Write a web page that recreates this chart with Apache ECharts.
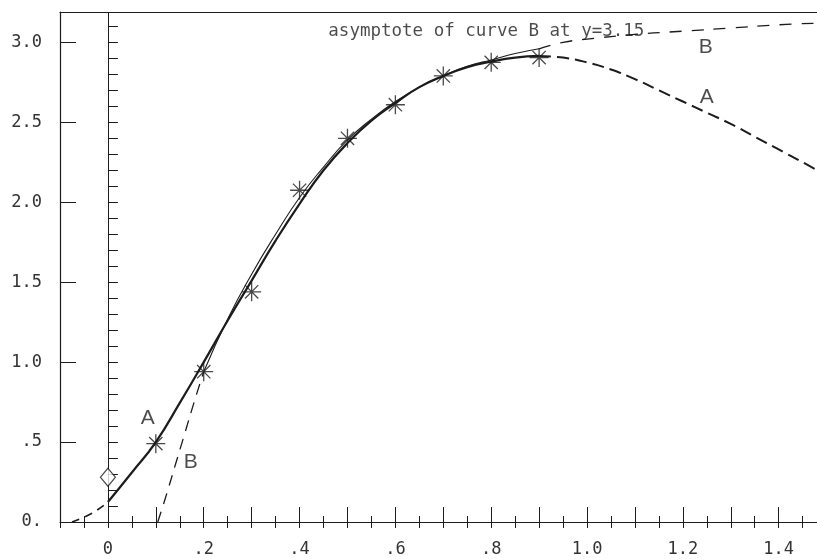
<!DOCTYPE html>
<html>
<head>
<meta charset="utf-8">
<script src="https://cdn.jsdelivr.net/npm/echarts@6/dist/echarts.min.js"></script>
<style>
  html, body { margin: 0; padding: 0; background: #fff; }
  #chart { width: 817px; height: 559px; }
</style>
</head>
<body>
<div id="chart"></div>
<script>
// curve A, extrapolated part left of x=0 (dashed)
const aLeftX = [-0.075, -0.05, -0.025, 0];
const aLeftY = [0, 0.03, 0.07, 0.125];
// curve A, fitted range (solid)
const aFitX = [0, 0.05, 0.1, 0.15, 0.2, 0.25, 0.3, 0.35, 0.4, 0.45, 0.5, 0.55, 0.6, 0.65, 0.7, 0.75, 0.8, 0.85, 0.9];
const aFitY = [0.125, 0.31, 0.5, 0.745, 1.0, 1.26, 1.51, 1.76, 1.99, 2.2, 2.37, 2.51, 2.62, 2.72, 2.79, 2.845, 2.88, 2.905, 2.915];
// curve A, extrapolated part to the right (dashed)
const aRightX = [0.9, 0.95, 1.0, 1.05, 1.1, 1.15, 1.2, 1.25, 1.3, 1.35, 1.4, 1.45, 1.48];
const aRightY = [2.915, 2.905, 2.875, 2.83, 2.77, 2.7, 2.63, 2.56, 2.49, 2.41, 2.33, 2.25, 2.2];

// curve B
const bLeftX = [0.104, 0.12, 0.14, 0.16, 0.18, 0.2];
const bLeftY = [0, 0.15, 0.35, 0.55, 0.75, 0.94];
const bFitX = [0.2, 0.25, 0.3, 0.35, 0.4, 0.45, 0.5, 0.55, 0.6, 0.65, 0.7, 0.75, 0.8, 0.85, 0.9];
const bFitY = [0.94, 1.27, 1.55, 1.8, 2.03, 2.22, 2.39, 2.52, 2.63, 2.72, 2.79, 2.85, 2.89, 2.93, 2.96];
const bRightX = [0.9, 0.95, 1.0, 1.1, 1.2, 1.3, 1.4, 1.48];
const bRightY = [2.96, 3.0, 3.02, 3.05, 3.07, 3.09, 3.11, 3.12];

// measured points
const obsX = [0.1, 0.2, 0.3, 0.4, 0.5, 0.6, 0.7, 0.8, 0.9];
const obsY = [0.49, 0.94, 1.44, 2.075, 2.4, 2.61, 2.79, 2.875, 2.905];

// the single point on the y line
const startPoint = [0, 0.28];

// text notes (x, y, text)
const noteX = [0.083, 0.173, 1.248, 1.25];
const noteY = [0.65, 0.375, 2.97, 2.66];
const noteText = ["A", "B", "B", "A"];
const asymptoteNote = [0.46, 3.07, "asymptote of curve B at y=3.15"];

const xMin = -0.1, xMax = 1.48, yMin = 0, yMax = 3.19;

const ink = "#1c1c1c";
const mono = "'DejaVu Sans Mono', monospace";

function zip(xs, ys) {
    return xs.map((x, i) => [x, ys[i]]);
}

function isStep(v, step) {
    const k = v / step;
    return Math.abs(k - Math.round(k)) < 1e-6;
}

function xLabel(v) {
    if (!isStep(v, 0.2)) return "";
    const r = Math.round(v * 10) / 10;
    if (r === 0) return "0";
    if (r < 1) return "." + Math.round(r * 10);
    return r.toFixed(1);
}

function yLabel(v) {
    if (!isStep(v, 0.5)) return "";
    const r = Math.round(v * 10) / 10;
    if (r === 0) return "0.";
    if (r < 1) return "." + Math.round(r * 10);
    return r.toFixed(1);
}

function curve(name, pts, width, dash) {
    return {
        name: name,
        type: "line",
        data: pts,
        smooth: 0.5,
        symbol: "none",
        lineStyle: { color: ink, width: width, type: dash || "solid" },
        z: 3
    };
}

const chart = echarts.init(document.getElementById("chart"), null, { renderer: "canvas" });

const hidden = { show: false };

const option = {
    animation: false,
    backgroundColor: "#fff",
    grid: { left: 60, right: 0, top: 12, bottom: 37 },
    xAxis: [
        {
            type: "value", min: xMin, max: xMax, interval: 0.1, position: "bottom",
            axisLine: { show: true, onZero: false, lineStyle: { color: ink, width: 1.2 } },
            axisTick: { show: true, inside: true, length: 15, lineStyle: { color: ink } },
            axisLabel: {
                show: true, margin: 19, formatter: xLabel, color: "#333",
                fontFamily: mono, fontSize: 17, showMaxLabel: false
            },
            splitLine: hidden
        },
        {
            type: "value", min: xMin, max: xMax, interval: 0.05, position: "bottom",
            axisLine: hidden,
            axisTick: { show: true, inside: true, length: 6, lineStyle: { color: ink } },
            axisLabel: hidden, splitLine: hidden
        },
        {
            type: "value", min: xMin, max: xMax, interval: 0.05, position: "bottom",
            axisLine: hidden,
            axisTick: { show: true, inside: false, length: 6, lineStyle: { color: ink } },
            axisLabel: hidden, splitLine: hidden
        },
        {
            type: "value", min: xMin, max: xMax, position: "top",
            axisLine: { show: true, lineStyle: { color: ink, width: 1.2 } },
            axisTick: hidden, axisLabel: hidden, splitLine: hidden
        }
    ],
    yAxis: [
        {
            type: "value", min: yMin, max: yMax, interval: 0.5, position: "left",
            axisLine: { show: true, onZero: false, lineStyle: { color: ink, width: 1.2 } },
            axisTick: { show: true, inside: true, length: 16, lineStyle: { color: ink } },
            axisLabel: {
                show: true, margin: 18, formatter: yLabel, color: "#333",
                fontFamily: mono, fontSize: 17, showMaxLabel: false
            },
            splitLine: hidden
        },
        {
            type: "value", min: yMin, max: yMax, interval: 0.1, position: "left",
            axisLine: hidden,
            axisTick: { show: true, inside: true, length: 10, lineStyle: { color: ink } },
            axisLabel: hidden, splitLine: hidden
        }
    ],
    series: [
        Object.assign(curve("A left", zip(aLeftX, aLeftY), 1.6, [8, 6]), {
            markLine: {
                silent: true,
                symbol: "none",
                label: hidden,
                lineStyle: { color: ink, width: 1, type: "solid" },
                data: [{ xAxis: 0 }]
            }
        }),
        curve("A", zip(aFitX, aFitY), 2.2),
        curve("A right", zip(aRightX, aRightY), 2, [12, 6]),
        curve("B left", zip(bLeftX, bLeftY), 1.3, [11, 8]),
        curve("B", zip(bFitX, bFitY), 1.1),
        curve("B right", zip(bRightX, bRightY), 1.3, [12, 10]),
        {
            name: "observed",
            type: "scatter",
            data: zip(obsX, obsY),
            symbol: "path://M10,0L10,20M0,10L20,10M3,3L17,17M3,17L17,3",
            symbolSize: 19,
            itemStyle: { color: "none", borderColor: ink, borderWidth: 1.3 },
            z: 5
        },
        {
            name: "start",
            type: "scatter",
            data: [startPoint],
            symbol: "diamond",
            symbolSize: [15, 18],
            itemStyle: { color: "#fff", borderColor: ink, borderWidth: 1.2 },
            z: 6
        },
        {
            name: "notes",
            type: "scatter",
            symbolSize: 0,
            silent: true,
            data: noteX.map((x, i) => ({
                value: [x, noteY[i]],
                label: {
                    show: true, position: "inside", formatter: noteText[i],
                    fontFamily: "'Liberation Sans', sans-serif", fontSize: 21,
                    color: "#1e1e1e"
                }
            })).concat([{
                value: [asymptoteNote[0], asymptoteNote[1]],
                label: {
                    show: true, position: "right", distance: 0,
                    formatter: asymptoteNote[2],
                    fontFamily: mono, fontSize: 17.5, color: "#1e1e1e"
                }
            }]),
            z: 7
        }
    ]
};

chart.setOption(option);
</script>
</body>
</html>
